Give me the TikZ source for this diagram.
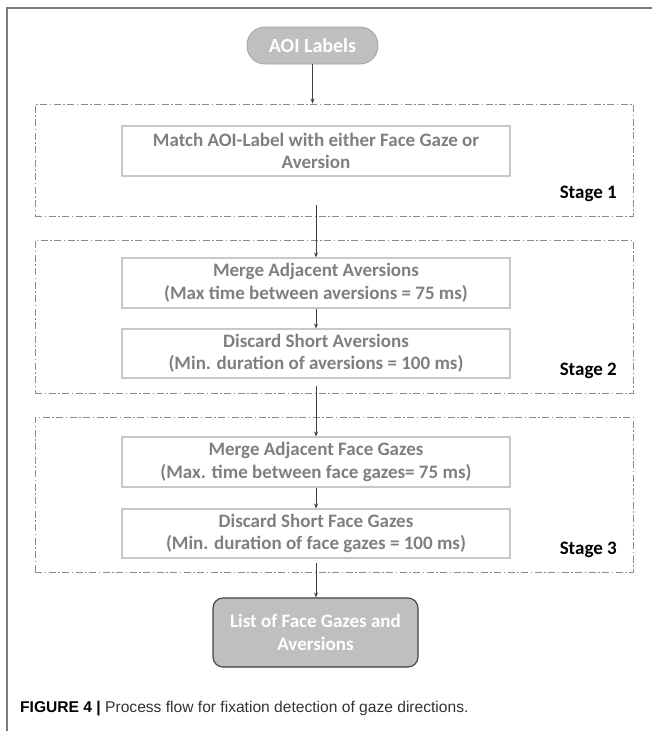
\documentclass[tikz,border=0pt]{standalone}
\usepackage{fontspec}
\setmainfont{Carlito}
\newfontfamily\capfont{Liberation Sans}
\usetikzlibrary{arrows.meta}
\definecolor{boxtext}{HTML}{7F7F7F}
\definecolor{boxline}{HTML}{C8C8C8}
\definecolor{stageline}{HTML}{8C8C8C}
\definecolor{fillgray}{HTML}{BFBFBF}
\definecolor{arrowcol}{HTML}{404040}
\definecolor{pillline}{HTML}{8FA7C4}
\definecolor{framecol}{HTML}{7A7A7A}
\tikzset{
  stagebox/.style={draw=stageline, line width=0.9pt,
    dash pattern=on 7pt off 2.5pt on 1.5pt off 2.5pt, inner sep=0pt},
  procbox/.style={draw=boxline, line width=1.1pt, minimum width=388pt,
    minimum height=50pt, align=center, text=boxtext, inner sep=0pt,
    font=\fontsize{19}{22.5}\selectfont\bfseries},
  stagelab/.style={anchor=east, text=black, inner sep=0pt,
    font=\fontsize{19}{22}\selectfont\bfseries},
  arr/.style={draw=arrowcol, line width=0.8pt,
    -{Stealth[length=5pt,width=4pt]}},
}
\begin{document}
\begin{tikzpicture}[x=1pt,y=-1pt]
\useasboundingbox (0,0) rectangle (652,731);
% frame
\draw[framecol, line width=1.4pt] (7,731) -- (7,8) -- (652,8);
% start
\node[draw=pillline, fill=fillgray, line width=0.8pt, rounded corners=18pt,
  minimum width=131pt, minimum height=37pt, inner sep=0pt, text=white,
  font=\fontsize{20}{22}\selectfont\bfseries] (aoi) at (312.5,45.5) {AOI Labels};
% stage 1
\node[stagebox, minimum width=598pt, minimum height=112pt] (s1) at (334,160) {};
\node[procbox] (match) at (316,151) {Match AOI-Label with either Face Gaze or\\Aversion};
\node[stagelab] (s1lab) at (617,194) {Stage 1};
% stage 2
\node[stagebox, minimum width=598pt, minimum height=153pt] (s2) at (334,316.5) {};
\node[procbox] (m1) at (316,283) {Merge Adjacent Aversions\\(Max time between aversions = 75 ms)};
\node[procbox, minimum height=49pt] (d1) at (316,353.5) {Discard Short Aversions\\(Min. duration of aversions = 100 ms)};
\node[stagelab] (s2lab) at (617,371) {Stage 2};
% stage 3
\node[stagebox, minimum width=598pt, minimum height=155pt] (s3) at (334,494.5) {};
\node[procbox] (m2) at (316,462) {Merge Adjacent Face Gazes\\(Max. time between face gazes= 75 ms)};
\node[procbox, minimum height=49pt] (d2) at (316,533.5) {Discard Short Face Gazes\\(Min. duration of face gazes = 100 ms)};
\node[stagelab] (s3lab) at (617,550) {Stage 3};
% end
\node[draw=arrowcol, fill=fillgray, line width=1.1pt, rounded corners=10pt,
  minimum width=205pt, minimum height=69pt, inner sep=0pt, align=center, text=white,
  font=\fontsize{19}{23}\selectfont\bfseries] (fin) at (315.5,632.5) {List of Face Gazes and\\Aversions};
% connectors
\coordinate (c1) at (316,205);
\coordinate (c2) at (316,386);
\coordinate (c3) at (316,563);
\draw[arr] (aoi.south) -- (aoi.south |- s1.north);
\draw[arr] (c1) -- (m1.north);
\draw[arr] (m1.south) -- (d1.north);
\draw[arr] (c2) -- (m2.north);
\draw[arr] (m2.south) -- (d2.north);
\draw[arr] (c3) -- (c3 |- fin.north);
% caption
\node[anchor=west, inner sep=0pt, font=\capfont\fontsize{15.6}{18}\selectfont] (cap) at (20,709)
  {\textbf{FIGURE 4 {\textbar}} \textcolor[HTML]{333333}{Process flow for fixation detection of gaze directions.}};
\end{tikzpicture}
\end{document}
